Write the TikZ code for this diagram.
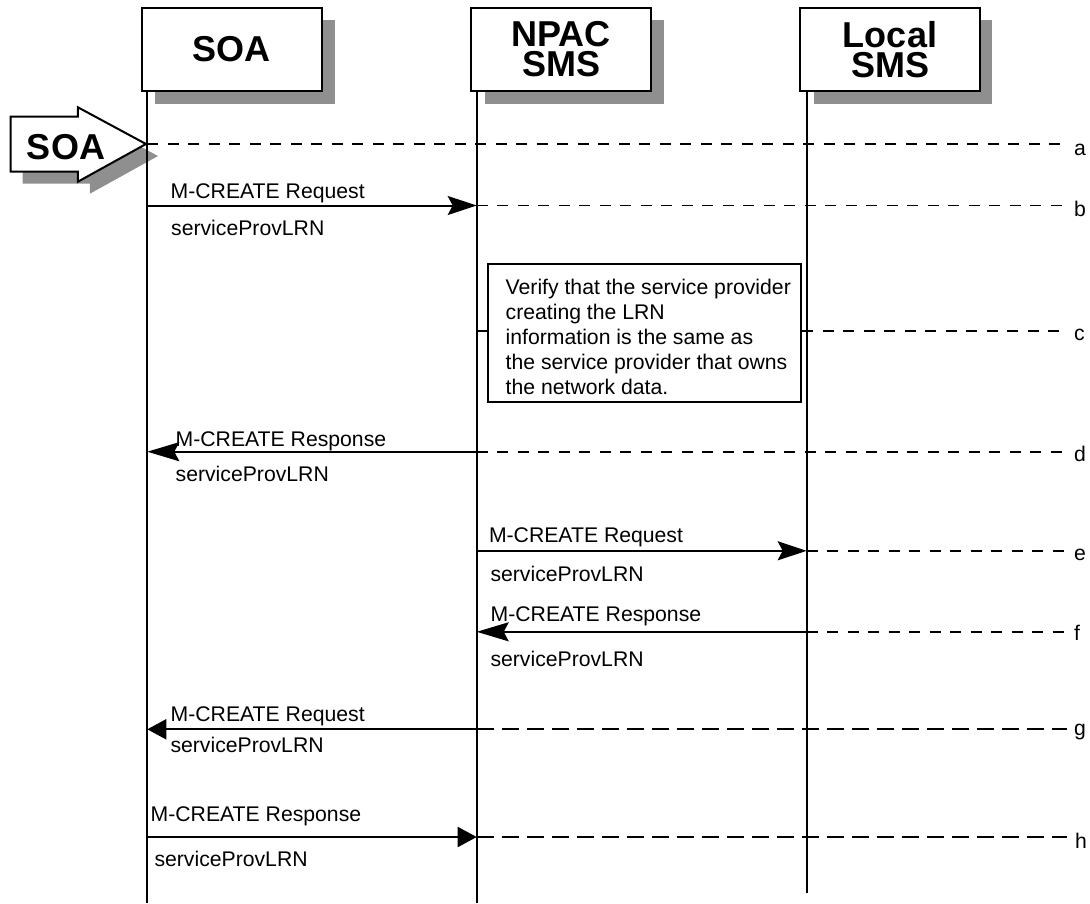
\documentclass[tikz,border=0pt]{standalone}
\usepackage{fontspec}
\setmainfont{Liberation Sans}
\usetikzlibrary{arrows.meta}
\definecolor{shadowgray}{RGB}{143,143,143}
\begin{document}
\begin{tikzpicture}[x=1pt,y=-1pt,
  lbl/.style={font=\fontsize{21.2}{25}\selectfont, inner sep=0pt},
  headbox/.style={draw=black, line width=2pt, fill=white, minimum width=179.5pt, minimum height=82.4pt, inner sep=0pt, font=\fontsize{36}{30}\selectfont\bfseries, align=center},
  life/.style={line width=2pt},
  msgs/.style={line width=2pt, -{Stealth[length=29pt,width=19pt,inset=5pt]}},
  msgl/.style={line width=2pt, -{Stealth[length=32pt,width=19pt,inset=5pt]}},
  msgt/.style={line width=2pt, -{Triangle[length=19pt,width=20pt]}},
  sdash/.style={line width=1.9pt, dash pattern=on 11pt off 9.5pt},
  ldash/.style={line width=1.9pt, dash pattern=on 17pt off 8pt},
  notebox/.style={draw=black, line width=2pt, fill=white, minimum width=312.7pt, minimum height=138pt, inner sep=0pt},
  ]
\useasboundingbox (0,0) rectangle (1090,903);

% shadows
\fill[shadowgray] (155,20) rectangle (334.6,103.7);
\fill[shadowgray] (484.7,20) rectangle (663.7,103.7);
\fill[shadowgray] (813.7,20) rectangle (992.2,103.7);
\fill[shadowgray] (22.5,128.7) -- (89.9,128.7) -- (89.9,119.3) -- (158,156) -- (89.9,193.7) -- (89.9,183.7) -- (22.5,183.7) -- cycle;

% lifeline coordinates
\coordinate (soaT) at (147.3,90.7);
\coordinate (soaB) at (147.3,903);
\coordinate (npacT) at (476.7,90.7);
\coordinate (npacB) at (476.7,903);
\coordinate (locT) at (806.7,90.7);
\coordinate (locB) at (806.7,893.3);
\draw[life] (soaT) -- (soaB);
\draw[life] (npacT) -- (npacB);
\draw[life] (locT) -- (locB);

% header boxes
\node[headbox] (soa) at (231.8,49.5) {SOA};
\node[headbox] (npac) at (561.2,49.5) {NPAC\\SMS};
\node[headbox] (local) at (890,49.5) {Local\\SMS};

% SOA entry arrow
\draw[line width=2pt, fill=white] (10.5,116.7) -- (77.9,116.7) -- (77.9,107.3) -- (146,144) -- (77.9,181.7) -- (77.9,171.7) -- (10.5,171.7) -- cycle;
\node[font=\fontsize{36}{28}\selectfont\bfseries, inner sep=0pt] (soaarrow) at (66,147.5) {SOA};

% row coordinates
\coordinate (s-a) at (147.3,144);   \coordinate (e-a) at (1067,144);
\coordinate (s-b) at (147.3,205.5); \coordinate (n-b) at (476.7,205.5); \coordinate (e-b) at (1067,205.5);
\coordinate (n-c) at (476.7,331);   \coordinate (e-c) at (1067,331);
\coordinate (s-d) at (147.3,451.7); \coordinate (n-d) at (476.7,451.7); \coordinate (e-d) at (1067,451.7);
\coordinate (n-e) at (476.7,550.8); \coordinate (l-e) at (806.7,550.8); \coordinate (e-e) at (1067,550.8);
\coordinate (n-f) at (476.7,631.8); \coordinate (l-f) at (806.7,631.8); \coordinate (e-f) at (1067,631.8);
\coordinate (s-g) at (147.3,729.3); \coordinate (n-g) at (476.7,729.3); \coordinate (e-g) at (1067,729.3);
\coordinate (s-h) at (147.3,837);   \coordinate (n-h) at (476.7,837);   \coordinate (e-h) at (1067,837);

% a
\draw[sdash] (s-a) -- (e-a);
\node[lbl, anchor=base west] (la) at (1074,155) {a};
% b
\draw[sdash] (n-b) -- (e-b);
\draw[msgs] (s-b) -- (n-b);
\node[lbl, anchor=base west] (mb1) at (170.5,198.3) {M-CREATE Request};
\node[lbl, anchor=base west] (mb2) at (171,235) {serviceProvLRN};
\node[lbl, anchor=base west] (lb) at (1074,216.5) {b};
% c
\node[notebox] (note) at (644.65,333.3) {};
\node[lbl, align=left, anchor=north west] (notetext) at (505.5,278.8) {Verify that the service provider\\creating the LRN\\information is the same as\\the service provider that owns\\the network data.};
\draw[line width=2pt] (n-c) -- (note.west |- n-c);
\draw[sdash] (note.east |- e-c) -- (e-c);
\node[lbl, anchor=base west] (lc) at (1074,340) {c};
% d
\draw[sdash] (n-d) -- (e-d);
\draw[msgl] (n-d) -- (s-d);
\node[lbl, anchor=base west] (md1) at (175.5,446.7) {M-CREATE Response};
\node[lbl, anchor=base west] (md2) at (175.5,481.7) {serviceProvLRN};
\node[lbl, anchor=base west] (ld) at (1074,461) {d};
% e
\draw[sdash] (l-e) -- (e-e);
\draw[msgs] (n-e) -- (l-e);
\node[lbl, anchor=base west] (me1) at (488.8,542.3) {M-CREATE Request};
\node[lbl, anchor=base west] (me2) at (490.3,581.7) {serviceProvLRN};
\node[lbl, anchor=base west] (le) at (1074,560) {e};
% f
\draw[sdash] (l-f) -- (e-f);
\draw[msgl] (l-f) -- (n-f);
\node[lbl, anchor=base west] (mf1) at (490.5,621) {M-CREATE Response};
\node[lbl, anchor=base west] (mf2) at (490.3,666.7) {serviceProvLRN};
\node[lbl, anchor=base west] (lf) at (1074,640) {f};
% g
\draw[ldash] (n-g) -- (e-g);
\draw[msgt] (n-g) -- (s-g);
\node[lbl, anchor=base west] (mg1) at (170.5,721.7) {M-CREATE Request};
\node[lbl, anchor=base west] (mg2) at (170.3,752.7) {serviceProvLRN};
\node[lbl, anchor=base west] (lg) at (1074,735) {g};
% h
\draw[ldash] (n-h) -- (e-h);
\draw[msgt] (s-h) -- (n-h);
\node[lbl, anchor=base west] (mh1) at (150.5,821.7) {M-CREATE Response};
\node[lbl, anchor=base west] (mh2) at (154.3,866) {serviceProvLRN};
\node[lbl, anchor=base west] (lh) at (1075,848) {h};
\end{tikzpicture}
\end{document}
